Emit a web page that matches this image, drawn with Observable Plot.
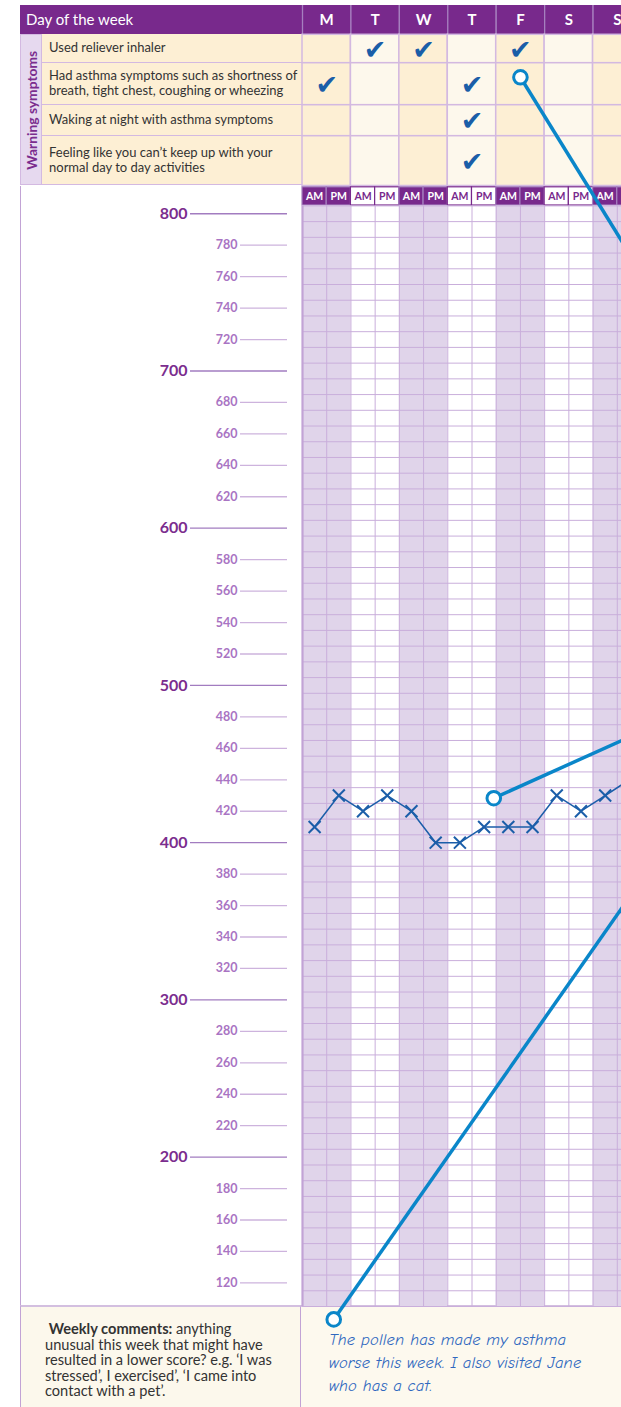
<!DOCTYPE html>
<html><head><meta charset="utf-8">
<script src="https://cdn.jsdelivr.net/npm/d3@7"></script>
<script src="https://cdn.jsdelivr.net/npm/@observablehq/plot@0.6"></script>
<style>
body{margin:0;background:#fff;}
#wrap{position:relative;width:621px;height:1407px;overflow:hidden;font-family:Lato,"Noto Sans",sans-serif;background:#fff;}
.abs{position:absolute;box-sizing:border-box;}
#wrap svg{position:absolute;left:0;top:0;}
</style></head>
<body><div id="wrap"></div>
<script>
// ---------- data ----------
const days = ["M","T","W","T","F","S","S"];
const halves = ["AM","PM"];
const symptoms = [
  "Used reliever inhaler",
  "Had asthma symptoms such as shortness of breath, tight chest, coughing or wheezing",
  "Waking at night with asthma symptoms",
  "Feeling like you can\u2019t keep up with your normal day to day activities"
];
const checkSymptom = [0, 0, 0, 1, 1, 2, 3];
const checkDay     = [1, 2, 4, 0, 3, 3, 3];
const peakFlow = [410, 430, 420, 430, 420, 400, 400, 410, 410, 410, 430, 420, 430, 440];
const majorTicks = [800, 700, 600, 500, 400, 300, 200];
const minorTicks = [780, 760, 740, 720, 680, 660, 640, 620, 580, 560, 540, 520, 480, 460, 440, 420,
                    380, 360, 340, 320, 280, 260, 240, 220, 180, 160, 140, 120];
const headerTitle = "Day of the week";
const sideLabel = "Warning symptoms";
const commentLabel = "Weekly comments:";
const commentPrompt = ["anything", "unusual this week that might have", "resulted in a lower score? e.g. \u2018I was", "stressed\u2019, I exercised\u2019, \u2018I came into", "contact with a pet\u2019."];
const commentLines = ["The pollen has made my asthma", "worse this week. I also visited Jane", "who has a cat."];
// callout annotations in chart units (slot, peak-flow value)
const callouts = [
  {x1: 9.0, y1: 886.8, x2: 14.8, y2: 742.4},
  {x1: 7.9, y1: 428.3, x2: 14.8, y2: 476.2},
  {x1: 1.29, y1: 96.8, x2: 14.8, y2: 393.9}
];

// ---------- layout & style ----------
const W = 660, GL = 302, GR = 641, H = 1407;
const rowH = [29.3, 28.4, 42, 31, 49.8];
const rowTop = [0]; rowH.forEach(h => rowTop.push(rowTop[rowTop.length - 1] + h));
const ampmTop = 181.8, ampmBot = 200;
const yTopPx = 205.4, yBotPx = 1306;
const purple = "#78298c", lilac = "#e0d4ea", gridC = "#c9aedb", beige = "#fdefd4", beige2 = "#fdf8ec";
const cellBorder = "#d3b9e1", checkBlue = "#1a5ea8", lineBlue = "#1b5ea9", calloutBlue = "#0a86c9";
const font = "Lato, 'Noto Sans', sans-serif";

const wrap = document.getElementById("wrap");
function div(css, html) { const e = document.createElement("div"); e.className = "abs"; e.style.cssText = css; if (html != null) e.innerHTML = html; wrap.appendChild(e); return e; }

// left header (HTML)
div(`left:20px;top:5px;width:282px;height:${rowH[0]}px;background:${purple};color:#fff;font-size:15px;line-height:${rowH[0]}px;padding-left:6px;`, headerTitle);
div(`left:20px;top:${5 + rowTop[1]}px;width:22px;height:${rowTop[5] - rowTop[1]}px;background:#e6d9ef;border:1.5px solid ${cellBorder};display:flex;align-items:center;justify-content:center;`,
    `<span style="writing-mode:vertical-rl;transform:rotate(180deg);color:#7b2d8e;font-weight:bold;font-size:13.8px;white-space:nowrap;">${sideLabel}</span>`);
symptoms.forEach((s, i) => {
  div(`left:42px;top:${5 + rowTop[i + 1]}px;width:260px;height:${rowH[i + 1]}px;background:${beige};border-bottom:1.5px solid ${cellBorder};display:flex;align-items:center;padding-left:7px;padding-right:4px;font-size:13px;line-height:15.5px;color:#333;`, s);
});
// left panel border
div(`left:20px;top:${5 + rowTop[5]}px;width:282px;height:${1305 - 5 - rowTop[5]}px;border-left:1.5px solid #c2a3d5;`);
// comments
div(`left:20px;top:1305px;width:282px;height:110px;background:#fcf8ec;border-top:2px solid #d3bfe0;border-left:1.5px solid #c2a3d5;border-right:2px solid #c2a3d5;`);
div(`left:301px;top:1305px;width:360px;height:110px;background:#fdf9ee;border-top:2px solid #d3bfe0;`);
div(`left:45px;top:1321px;width:255px;font-size:14.6px;line-height:15.6px;color:#333;white-space:nowrap;`,
    `&nbsp;<b>${commentLabel}</b> ` + commentPrompt.join("<br>"));
div(`left:329px;top:1329px;width:300px;font-size:16.5px;line-height:22.8px;color:#2f68bf;font-family:'Comic Sans MS','Comic Neue','Noto Sans',sans-serif;font-style:italic;white-space:nowrap;letter-spacing:0.2px;`,
    commentLines.join("<br>"));

// ---------- header plot ----------
const dayIdx = d3.range(7);
const cells = symptoms.flatMap((s, si) => dayIdx.map(d => ({si, d})));
const slots = d3.range(14).map(i => ({i, day: Math.floor(i / 2), half: halves[i % 2]}));
const checks = checkDay.map((d, i) => ({d, s: checkSymptom[i]}));

const plotA = Plot.plot({
  width: W, height: 205, marginLeft: GL, marginRight: W - GR, marginTop: 5, marginBottom: 0,
  x: {domain: [0, 14], range: [GL, GR], axis: null},
  y: {domain: [0, 200], range: [5, 205], axis: null},
  style: {background: "transparent", fontFamily: font, maxWidth: "none", overflow: "visible"},
  marks: [
    Plot.rect(dayIdx, {x1: d => 2 * d, x2: d => 2 * d + 2, y1: () => 0, y2: () => rowTop[1], fill: purple}),
    Plot.ruleX(d3.range(0, 8).map(d => 2 * d), {y1: () => 0, y2: () => rowTop[1], stroke: "#a57fbf", strokeWidth: 1.3}),
    Plot.text(dayIdx, {x: d => 2 * d + 1, y: () => rowTop[1] / 2, text: d => days[d], fill: "white", fontSize: 15, fontWeight: "bold", fontFamily: font}),
    Plot.rect(cells, {x1: c => 2 * c.d, x2: c => 2 * c.d + 2, y1: c => rowTop[c.si + 1], y2: c => rowTop[c.si + 2],
      fill: c => c.d % 2 ? beige2 : beige, stroke: cellBorder, strokeWidth: 1.5}),
    Plot.text(checks, {x: c => 2 * c.d + 1, y: c => (rowTop[c.s + 1] + rowTop[c.s + 2]) / 2 + 1, text: () => "\u2714",
      fill: checkBlue, fontSize: 27, fontFamily: "DejaVu Sans", fontWeight: "bold"}),
    Plot.rect(slots, {x1: s => s.i, x2: s => s.i + 1, y1: () => ampmTop, y2: () => ampmBot,
      fill: s => s.day % 2 ? "white" : purple, stroke: s => s.day % 2 ? purple : "#a57fbf", strokeWidth: 1.2}),
    Plot.text(slots, {x: s => s.i + 0.5, y: () => (ampmTop + ampmBot) / 2, text: s => s.half,
      fill: s => s.day % 2 ? purple : "white", fontSize: 10.5, fontWeight: "bold", fontFamily: font})
  ]
});
wrap.appendChild(plotA);

// ---------- grid plot ----------
const plotB = Plot.plot({
  width: W, height: H, marginLeft: GL, marginRight: W - GR, marginTop: yTopPx, marginBottom: H - yBotPx,
  x: {domain: [0, 14], range: [GL, GR], axis: null},
  y: {domain: [105, 805], range: [yBotPx, yTopPx]},
  style: {background: "transparent", fontFamily: font, maxWidth: "none", overflow: "visible"},
  marks: [
    Plot.rect([0, 2, 4, 6], {x1: d => 2 * d, x2: d => 2 * d + 2, y1: () => 105, y2: () => 805, fill: lilac}),
    Plot.ruleY(d3.range(105, 806, 10), {stroke: gridC, strokeWidth: 1}),
    Plot.ruleX(d3.range(1, 15), {stroke: gridC, strokeWidth: 1}),
    Plot.ruleX([0], {stroke: "#c2a3d5", strokeWidth: 2.2}),
    Plot.axisY(majorTicks, {tickSize: 97, tickPadding: 3, dx: -15, label: null, fontSize: 16, fontWeight: "bold",
      fill: "#7b2d8e", stroke: "#a27cc0", strokeWidth: 1.3, fontFamily: font}),
    Plot.axisY(minorTicks, {tickSize: 47, tickPadding: 3, dx: -15, label: null, fontSize: 12.5, fontWeight: "bold",
      fill: "#a974c3", stroke: "#cdb3dd", strokeWidth: 1.3, fontFamily: font}),
    Plot.line(peakFlow, {x: (d, i) => i + 0.5, y: d => d, stroke: lineBlue, strokeWidth: 1.5}),
    Plot.dot(peakFlow, {x: (d, i) => i + 0.5, y: d => d, symbol: "times", r: 5.5, stroke: lineBlue, strokeWidth: 2}),
    Plot.link(callouts, {x1: "x1", y1: "y1", x2: "x2", y2: "y2", stroke: calloutBlue, strokeWidth: 3.5}),
    Plot.dot(callouts, {x: "x1", y: "y1", r: 6.8, stroke: calloutBlue, strokeWidth: 3, fill: "white"})
  ]
});
wrap.appendChild(plotB);
</script></body></html>
